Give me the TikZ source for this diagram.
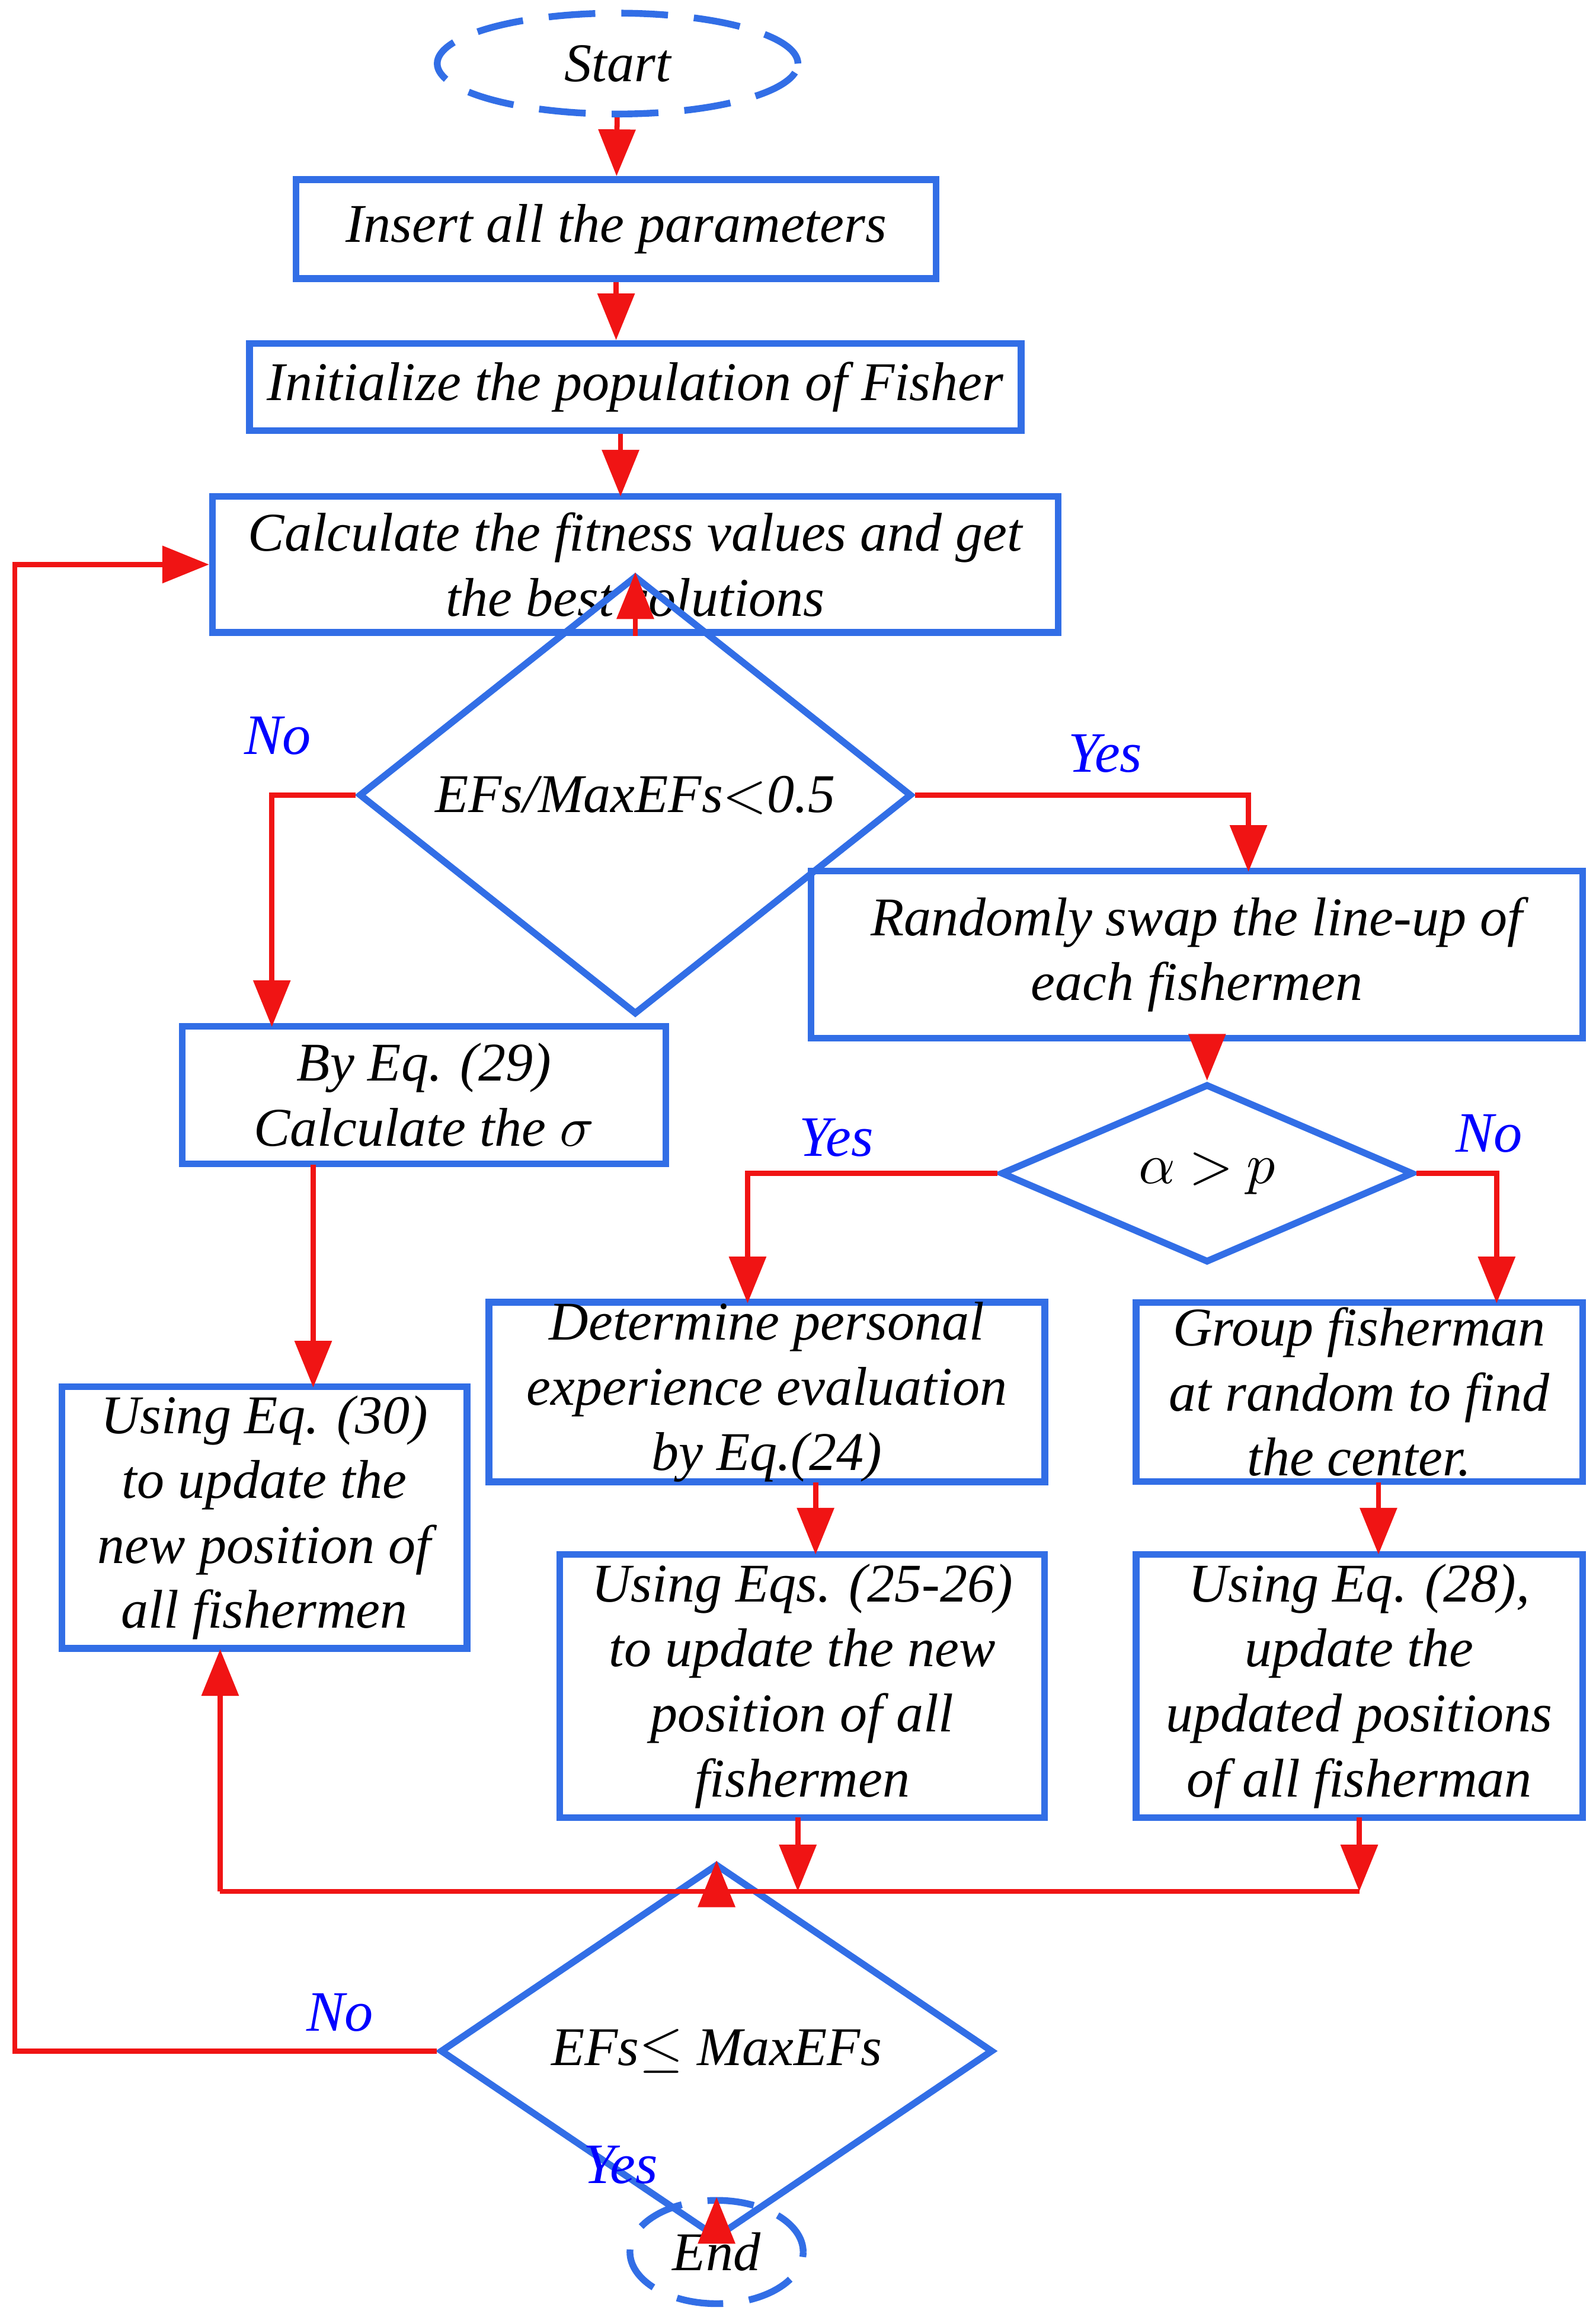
\documentclass[tikz,border=0pt]{standalone}
\usepackage{fontspec}
\setmainfont{Liberation Serif}
\usetikzlibrary{arrows.meta,shapes.geometric}
\definecolor{boxblue}{RGB}{50,110,230}
\definecolor{linered}{RGB}{240,20,20}
\begin{document}
\begin{tikzpicture}[x=0.01cm,y=-0.01cm,>={Triangle[width=7pt,length=9pt]},
    line width=1pt,font=\fontsize{10.5}{12.5}\selectfont\itshape,
    box/.style={draw=boxblue,line width=1.3pt,rectangle,align=center,inner sep=0pt},
    dec/.style={draw=boxblue,line width=1.3pt,diamond,inner sep=0pt,align=center},
    term/.style={draw=boxblue,line width=1.3pt,ellipse,dashed,dash pattern=on 9pt off 5pt},
    flow/.style={->,draw=linered},
    lab/.style={text=blue,font=\fontsize{11}{13}\selectfont\itshape}]
  \useasboundingbox (0,0) rectangle (1080,1568);

  \node[term,minimum width=2.44cm,minimum height=0.66cm] (start) at (418,43) {Start};
  \node[box,minimum width=4.33cm,minimum height=0.67cm] (insert) at (417,155) {Insert all the parameters};
  \node[box,minimum width=5.22cm,minimum height=0.59cm] (init) at (430,262) {Initialize the population of Fisher};
  \node[box,minimum width=5.72cm,minimum height=0.92cm] (calc) at (430,382) {Calculate the fitness values and get\\the best solutions};
  \node[dec,minimum width=3.74cm,minimum height=1.13cm] (ratio) at (430,538) {EFs/MaxEFs$<$0.5};
  \node[box,minimum width=5.22cm,minimum height=1.13cm] (swap) at (810,646) {Randomly swap the line-up of\\each fishermen};
  \node[box,minimum width=3.27cm,minimum height=0.93cm] (sigma) at (287,741) {By Eq. (29)\\Calculate the $\sigma$};
  \node[dec,minimum width=2.79cm,minimum height=0.92cm] (alpha) at (817,794) {$\alpha$ $>$ $p$};
  \node[box,minimum width=3.76cm,minimum height=1.21cm] (personal) at (519,942) {Determine personal\\experience evaluation\\by Eq.(24)};
  \node[box,minimum width=3.02cm,minimum height=1.21cm] (group) at (920,942) {Group fisherman\\at random to find\\the center.};
  \node[box,minimum width=2.74cm,minimum height=1.77cm] (upd30) at (179,1027) {Using Eq. (30)\\to update the\\new position of\\all fishermen};
  \node[box,minimum width=3.28cm,minimum height=1.78cm] (upd25) at (543,1141) {Using Eqs. (25-26)\\to update the new\\position of all\\fishermen};
  \node[box,minimum width=3.02cm,minimum height=1.78cm] (upd28) at (920,1141) {Using Eq. (28),\\update the\\updated positions\\of all fisherman};
  \node[dec,minimum width=3.74cm,minimum height=1.13cm] (check) at (485,1388) {EFs$\leq$ MaxEFs};
  \node[term,minimum width=1.06cm,minimum height=0.66cm] (end) at (485,1524) {End};

  \coordinate (merge) at (485,1280);
  \coordinate (loop) at (10,1388);

  \draw[flow] (start) -- (insert);
  \draw[flow] (insert) -- (insert |- init.north);
  \draw[flow] (init.south -| 420,0) -- (420,336);
  \draw[flow] (calc) -- (ratio);
  \draw[flow] (ratio.west) -| (184,695);
  \draw[flow] (ratio.east) -| (845,590);
  \draw[flow] (swap.south -| alpha) -- (alpha);
  \draw[flow] (212,788) -- (212,939);
  \draw[flow] (alpha.west) -| (506,882);
  \draw[flow] (alpha.east) -| (1013,882);
  \draw[flow] (552,1003) -- (552,1052);
  \draw[flow] (933,1003) -- (933,1052);
  \draw[flow] (540,1230) -- (540,1280);
  \draw[flow] (920,1230) -- (920,1280);
  \draw[draw=linered] (149,1280) -- (920,1280);
  \draw[flow] (149,1280) -- (149,1116);
  \draw[flow] (merge) -- (check);
  \draw[flow] (check.west) -- (loop) |- (calc.west);
  \draw[flow] (check) -- (end);

  \node[lab] (no1) at (188,498) {No};
  \node[lab] (yes1) at (748,510) {Yes};
  \node[lab] (yes2) at (566,770) {Yes};
  \node[lab] (no2) at (1008,767) {No};
  \node[lab] (no3) at (230,1362) {No};
  \node[lab] (yes3) at (420,1465) {Yes};
\end{tikzpicture}
\end{document}
